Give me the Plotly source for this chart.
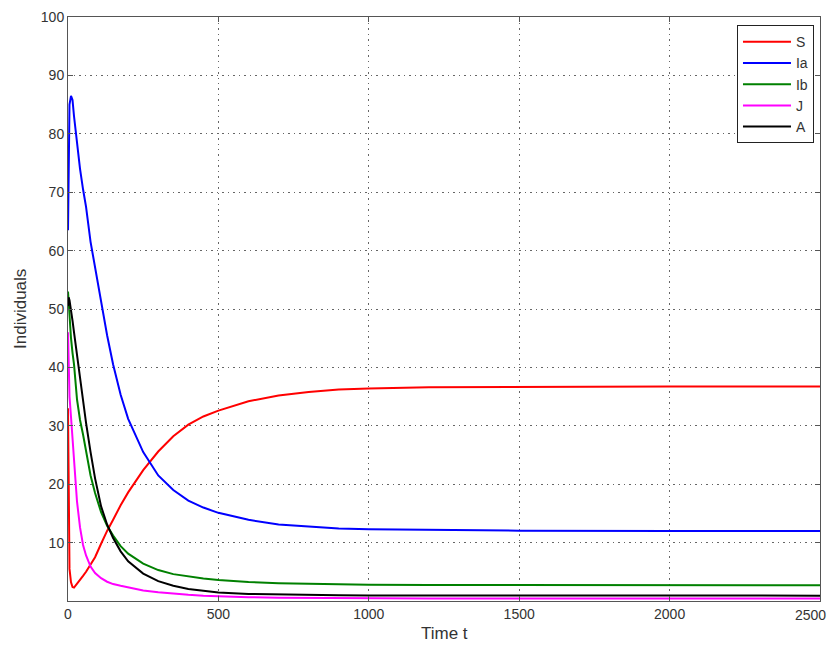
import plotly.graph_objects as go

# Time samples
t = [0, 2, 5, 10, 15, 20, 30, 40, 50, 60, 75, 90, 110, 130, 150, 175, 200,
     250, 300, 350, 400, 450, 500, 600, 700, 800, 900, 1000, 1200, 1500, 2000, 2500]

S = [33, 14, 5.5, 3.2, 2.4, 2.3, 2.9, 3.6, 4.3, 5.0, 6.2, 7.5, 9.8, 12, 13.9, 16.4, 18.6,
     22.4, 25.6, 28.2, 30.2, 31.6, 32.6, 34.2, 35.2, 35.8, 36.2, 36.4, 36.6, 36.7, 36.75, 36.75]

Ia = [63.5, 80, 85, 86.5, 85.8, 83, 78, 74, 70.5, 67.5, 61.5, 57, 51, 45.5, 40.5, 35.3, 31.2,
      25.5, 21.5, 19, 17.2, 16, 15.1, 13.9, 13.1, 12.7, 12.4, 12.3, 12.15, 12.05, 12.0, 12.0]

Ib = [53, 51, 48, 45, 42.5, 40.5, 34.5, 31, 28.5, 25.5, 21.5, 18.5, 15.2, 12.9, 11.2, 9.4, 8.1,
      6.4, 5.3, 4.6, 4.2, 3.85, 3.6, 3.25, 3.05, 2.92, 2.83, 2.78, 2.73, 2.7, 2.7, 2.7]

J = [46, 40, 35, 31.5, 27.5, 23.5, 17, 12.6, 9.6, 7.8, 5.9, 4.8, 3.9, 3.3, 2.9, 2.6, 2.3,
     1.8, 1.5, 1.25, 1.05, 0.9, 0.8, 0.65, 0.55, 0.5, 0.47, 0.45, 0.43, 0.42, 0.42, 0.42]

A = [50.5, 52, 51.5, 50, 48, 46, 42, 38.5, 34.5, 30.5, 25.5, 21, 16.2, 13.1, 10.8, 8.5, 6.8,
     4.7, 3.4, 2.6, 2.05, 1.7, 1.45, 1.2, 1.08, 1.0, 0.97, 0.95, 0.93, 0.92, 0.92, 0.92]

names = ["S", "Ia", "Ib", "J", "A"]
series = [S, Ia, Ib, J, A]
colors = ["#ff0000", "#0000ff", "#008000", "#ff00ff", "#000000"]

x_ticks = [0, 500, 1000, 1500, 2000, 2500]
y_ticks = [10, 20, 30, 40, 50, 60, 70, 80, 90, 100]

FONT = "Liberation Sans, Arial, sans-serif"
TICK_FONT = dict(family=FONT, size=14, color="#333")

fig = go.Figure()
for name, ys, c in zip(names, series, colors):
    fig.add_trace(go.Scatter(x=t, y=ys, mode="lines", name=name, legendgroup=name,
                             line=dict(color=c, width=2)))

axis_common = dict(
    showline=True, linecolor="#555", linewidth=1, mirror="ticks",
    ticks="inside", ticklen=5, tickcolor="#555",
    showgrid=True, gridcolor="#666", griddash="1.5px,4px", gridwidth=1,
    zeroline=False, automargin=False, ticklabeloverflow="allow",
    tickfont=TICK_FONT,
)

# last x label is drawn as an annotation so it stays inside the visible window
x_text = [str(v) for v in x_ticks[:-1]] + [""]
fig.update_xaxes(range=[0, 2500], tickvals=x_ticks, ticktext=x_text, **axis_common)
fig.update_yaxes(range=[0, 100], tickvals=y_ticks, ticktext=[str(v) for v in y_ticks],
                 **axis_common)

fig.add_annotation(text=str(x_ticks[-1]), xref="x", yref="paper", x=x_ticks[-1], y=0,
                   xanchor="right", yanchor="top", xshift=8, yshift=-4, showarrow=False,
                   font=TICK_FONT)
fig.add_annotation(text="Time t", xref="paper", yref="paper", x=0.5, y=0,
                   yshift=-32, yanchor="middle", showarrow=False,
                   font=dict(family=FONT, size=17, color="#333"))
fig.add_annotation(text="Individuals", xref="paper", yref="paper", x=0, y=0.5,
                   xshift=-48, xanchor="center", textangle=-90, showarrow=False,
                   font=dict(family=FONT, size=17, color="#333"))

# the page body adds an 8px margin, so the figure is sized to fit inside the window
fig.update_layout(
    width=821, height=634,
    margin=dict(l=60, r=9, t=9, b=41),
    plot_bgcolor="white", paper_bgcolor="white",
    legend=dict(x=0.992, y=0.986, xanchor="right", yanchor="top",
                bordercolor="#222", borderwidth=1, bgcolor="white",
                font=dict(family=FONT, size=14, color="#333"),
                itemwidth=48, tracegroupgap=0),
    showlegend=True,
)

fig.write_html("out.html")
